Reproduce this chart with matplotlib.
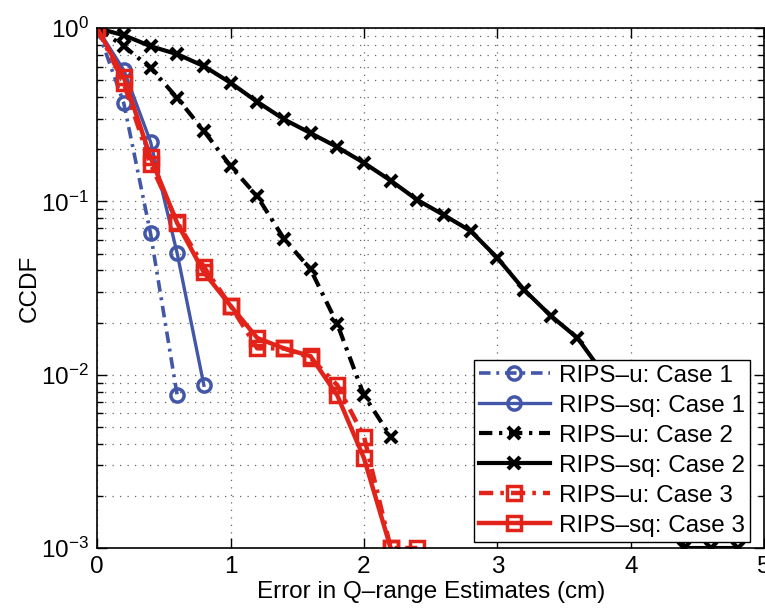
import matplotlib
matplotlib.use("Agg")
import matplotlib.pyplot as plt
from matplotlib.ticker import LogLocator, NullFormatter, MultipleLocator

plt.rcParams['font.family'] = ['Liberation Sans', 'DejaVu Sans']
plt.rcParams['font.size'] = 17.5

# x positions (cm) and CCDF values
x_u1 = [0, 0.2, 0.4, 0.6]
u_case1 = [1.0, 0.368, 0.0654, 0.0076]
x_sq1 = [0, 0.2, 0.4, 0.6, 0.8]
sq_case1 = [1.0, 0.572, 0.221, 0.0501, 0.0087]

x_u2 = [0, 0.2, 0.4, 0.6, 0.8, 1.0, 1.2, 1.4, 1.6, 1.8, 2.0, 2.2]
u_case2 = [1.0, 0.787, 0.590, 0.396, 0.255, 0.160, 0.107, 0.061, 0.0405, 0.0196, 0.0076, 0.0044]
x_sq2 = [0, 0.2, 0.4, 0.6, 0.8, 1.0, 1.2, 1.4, 1.6, 1.8, 2.0, 2.2, 2.4,
         2.6, 2.8, 3.0, 3.2, 3.4, 3.6, 3.8, 4.0, 4.2, 4.4, 4.6, 4.8]
sq_case2 = [1.0, 0.911, 0.787, 0.708, 0.604, 0.484, 0.376, 0.298, 0.248, 0.206,
            0.167, 0.132, 0.102, 0.0834, 0.0675, 0.0472, 0.0309, 0.0219, 0.0163,
            0.010, 0.006, 0.003, 0.001, 0.001, 0.001]

x_u3 = [0, 0.2, 0.4, 0.6, 0.8, 1.0, 1.2, 1.4, 1.6, 1.8, 2.0, 2.2, 2.4]
u_case3 = [1.0, 0.48, 0.165, 0.076, 0.042, 0.025, 0.0142, 0.0142, 0.0125, 0.0087, 0.0044, 0.001, 0.001]
x_sq3 = [0, 0.2, 0.4, 0.6, 0.8, 1.0, 1.2, 1.4, 1.6, 1.8, 2.0, 2.2]
sq_case3 = [1.0, 0.52, 0.18, 0.075, 0.039, 0.025, 0.0163, 0.0142, 0.0128, 0.0076, 0.0033, 0.001]

blue = '#4357A9'
red = '#E2231A'
dashdot = (0, (3.2, 1.6, 0.8, 1.6))

fig = plt.figure(figsize=(7.65, 6.13), dpi=100)
ax = fig.add_axes([0.127, 0.106, 0.872, 0.848])

ax.plot(x_u1, u_case1, color=blue, lw=2.6, ls=dashdot, marker='o', ms=9.5,
        mfc='none', mew=2.5, label='RIPS\u2013u: Case 1')
ax.plot(x_sq1, sq_case1, color=blue, lw=2.4, ls='-', marker='o', ms=9.5,
        mfc='none', mew=2.5, label='RIPS\u2013sq: Case 1')
ax.plot(x_u2, u_case2, color='black', lw=3, ls=dashdot, marker='x', ms=8,
        mew=3, label='RIPS\u2013u: Case 2')
ax.plot(x_sq2, sq_case2, color='black', lw=3, ls='-', marker='x', ms=8,
        mew=3, label='RIPS\u2013sq: Case 2')
ax.plot(x_u3, u_case3, color=red, lw=3.2, ls=dashdot, marker='s', ms=10,
        mfc='none', mew=2.5, label='RIPS\u2013u: Case 3')
ax.plot(x_sq3, sq_case3, color=red, lw=3.2, ls='-', marker='s', ms=10,
        mfc='none', mew=2.5, label='RIPS\u2013sq: Case 3')

ax.set_yscale('log')
ax.set_xlim(0, 5)
ax.set_ylim(1e-3, 1)
ax.xaxis.set_major_locator(MultipleLocator(1))
ax.yaxis.set_major_locator(LogLocator(base=10, numticks=10))
ax.yaxis.set_minor_locator(LogLocator(base=10, subs=range(2, 10), numticks=20))
ax.yaxis.set_minor_formatter(NullFormatter())

# matlab style dotted grid, minor only on y
ax.grid(True, which='major', axis='both', ls=(0, (1, 5)), lw=0.9, color='0.4')
ax.grid(True, which='minor', axis='y', ls=(0, (1, 5)), lw=0.9, color='0.4')
ax.tick_params(which='both', direction='in', top=True, right=True, width=1)
ax.tick_params(which='major', length=7, pad=6)
ax.tick_params(which='minor', length=4)
for s in ax.spines.values():
    s.set_linewidth(1.2)

ax.set_xlabel('Error in Q\u2013range Estimates (cm)', labelpad=2)
ax.set_ylabel('CCDF', labelpad=0)

leg = ax.legend(loc='lower right', bbox_to_anchor=(0.979, 0.012), borderaxespad=0,
                fancybox=False, framealpha=1, edgecolor='black', handlelength=2.9,
                handletextpad=0.4, labelspacing=0.33, borderpad=0.2)
leg.get_frame().set_linewidth(1.0)

fig.savefig('out.png', dpi=100)
